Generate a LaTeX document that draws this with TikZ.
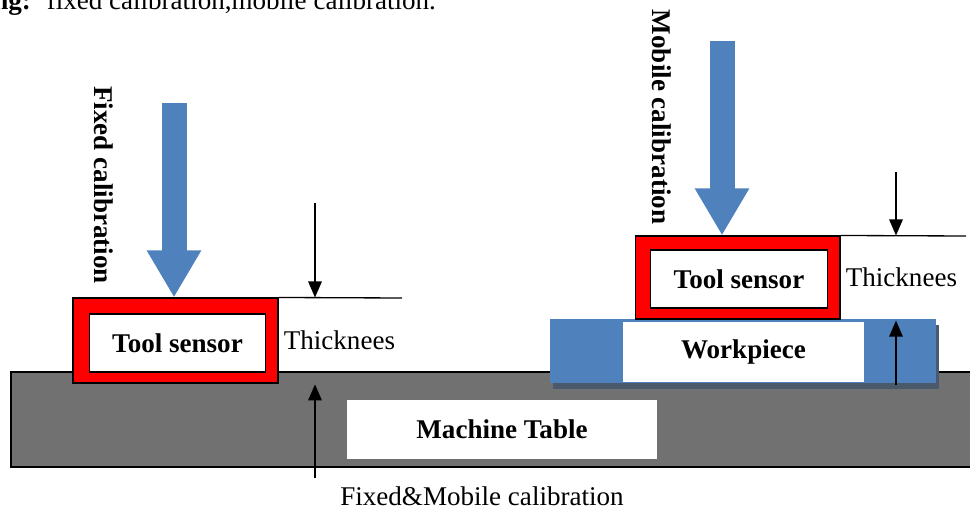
\documentclass[tikz,border=0pt]{standalone}
\usepackage{fontspec}
\setmainfont{Liberation Serif}
\usetikzlibrary{shadows,arrows.meta,positioning,calc}
\definecolor{wpblue}{HTML}{4F81BD}
\definecolor{tablegray}{HTML}{717171}
\definecolor{shadowslate}{HTML}{4B596D}
\tikzset{
    sensorframe/.style={
        rectangle,                 % marco exterior del sensor
        draw=black,                % contorno fino negro
        fill=red,                  % relleno rojo intenso
        line width=0.6pt,
        minimum width=4.1cm,
        inner sep=0pt
    },
    sensorbox/.style={
        rectangle,                 % caja blanca interior
        draw=black,
        fill=white,
        line width=0.6pt,
        minimum width=3.53cm,
        minimum height=1.16cm,
        inner sep=0pt
    },
    labelbox/.style={
        rectangle,                 % etiqueta blanca sin borde
        fill=white,
        inner sep=0pt
    },
    tablebox/.style={
        rectangle,
        draw=black,
        fill=tablegray,            % gris de la mesa
        line width=0.7pt,
        minimum width=19.28cm,
        minimum height=1.9cm,
        inner sep=0pt
    },
    wpbox/.style={
        rectangle,
        fill=wpblue,               % pieza en azul
        minimum width=7.72cm,
        minimum height=1.28cm,
        inner sep=0pt,
        drop shadow={shadow xshift=0.06cm, shadow yshift=-0.12cm,
            fill=shadowslate, opacity=1}
    },
    bigarrow/.style={
        draw=wpblue,
        line width=0.5cm,          % flecha gruesa azul
        -{Triangle[length=0.94cm, width=1.02cm]}
    },
    thkarrow/.style={
        line width=0.8pt,
        -{Triangle[length=0.32cm, width=0.27cm]}
    }
}

\begin{document}
\begin{tikzpicture}[x=0.02cm, y=-0.02cm, font=\fontsize{15.4}{18}\selectfont]
    \useasboundingbox (0,0) rectangle (970,513);

    \node[anchor=base west, inner sep=0pt] (caption) at (-7,10) {\textbf{ng:}\hspace{9pt}fixed calibration,mobile calibration.};

    % mesa de la maquina
    \node[tablebox] (table) at (493,419.5) {};
    \node[labelbox, minimum width=6.2cm, minimum height=1.18cm] (tablelbl) at (502,429.5) {\textbf{Machine Table}};

    % calibracion fija
    \node[sensorframe, minimum height=1.7cm] (lframe) at (175.5,340.5) {};
    \node[sensorbox] (lsensor) at (177.5,343) {\textbf{Tool sensor}};
    \coordinate (ltop) at (174,103);
    \draw[bigarrow] (ltop) -- (ltop |- lframe.north);
    \node[rotate=-90] (fixlbl) at (104,185) {\textbf{Fixed calibration}};

    \coordinate (lend) at (402,298);
    \draw[line width=0.75pt] (lframe.north east) -- (lend);
    \coordinate (ldown) at (315,203);
    \draw[thkarrow] (ldown) -- (ldown |- lframe.north);
    \node[right=0.1cm of lframe, inner sep=0pt] (lthk) {Thicknees};

    \node (calib) at (482,496) {Fixed\&Mobile calibration};
    \coordinate (lup) at (315,478);
    \draw[thkarrow, shorten >=0.26cm] (lup) -- (lup |- table.north);

    % calibracion movil
    \node[wpbox] (work) at (743,351) {};
    \node[labelbox, minimum width=4.82cm, minimum height=1.2cm] (worklbl) at (743.5,352) {\textbf{Workpiece}};
    \node[sensorframe, minimum height=1.66cm] (rframe) at (737.5,277.5) {};
    \node[sensorbox] (rsensor) at (739,279) {\textbf{Tool sensor}};
    \coordinate (rtop) at (722,41);
    \draw[bigarrow] (rtop) -- (rtop |- rframe.north);
    \node[rotate=-90] (moblbl) at (662,117) {\textbf{Mobile calibration}};

    \coordinate (rend) at (966,236);
    \draw[line width=0.75pt] (rframe.north east) -- (rend);
    \coordinate (rdown) at (896,172);
    \draw[thkarrow] (rdown) -- (rdown |- rframe.north);
    \node[right=0.1cm of rframe, inner sep=0pt] (rthk) {Thicknees};
    \coordinate (rup) at (896,385);
    \draw[thkarrow, shorten >=0.04cm] (rup) -- (rup |- work.north);
\end{tikzpicture}
\end{document}
